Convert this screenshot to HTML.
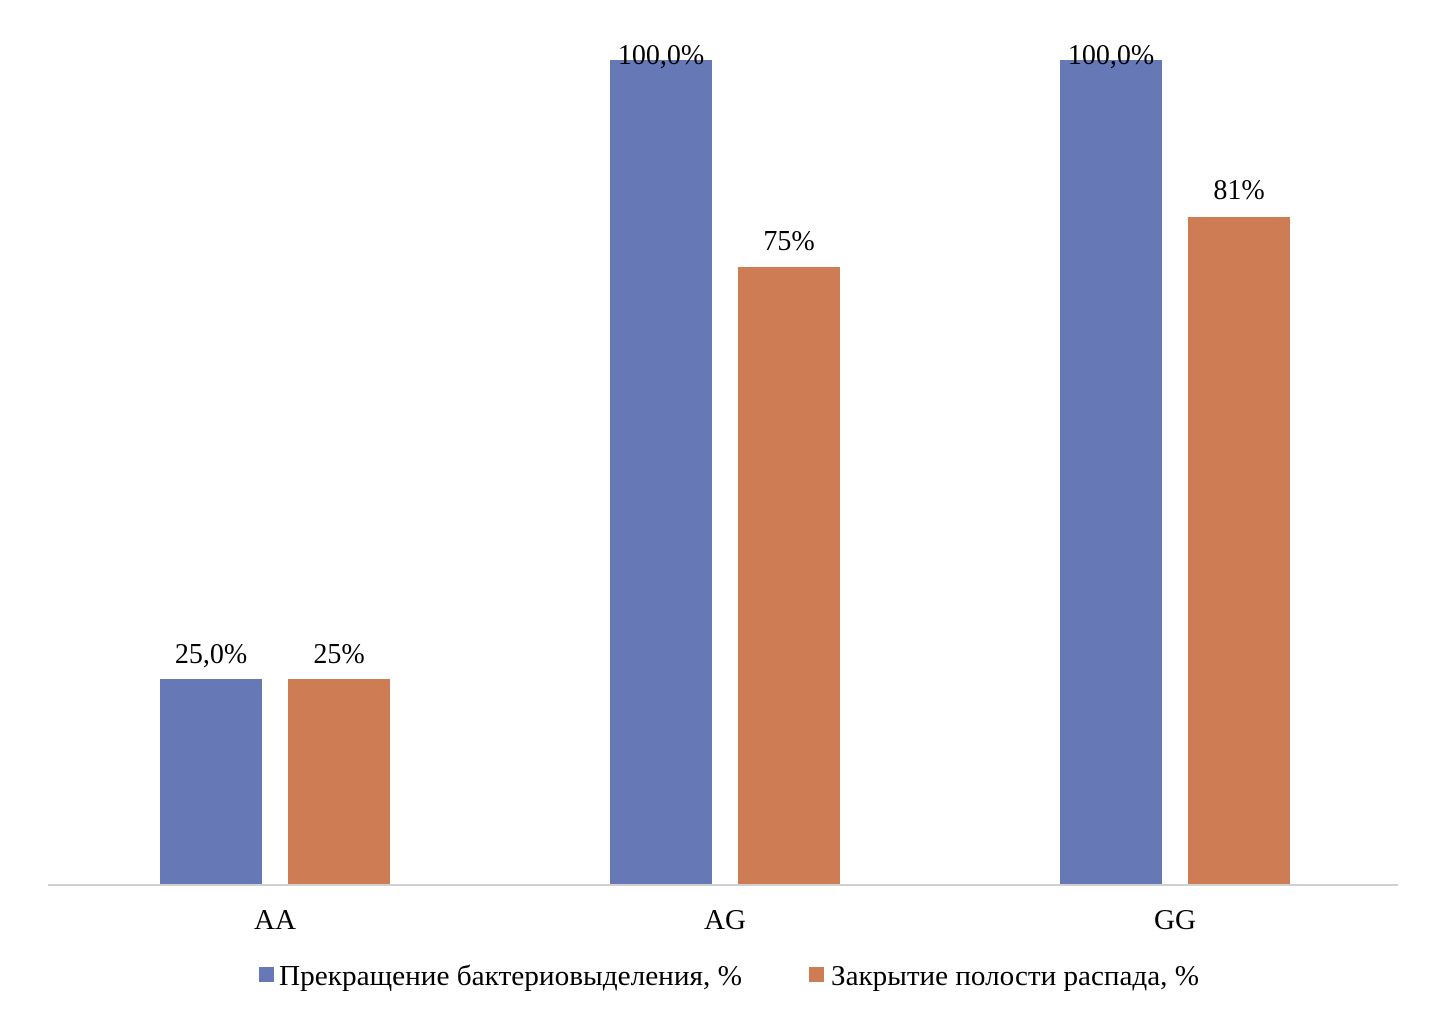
<!DOCTYPE html>
<html><head><meta charset="utf-8"><style>html,body{margin:0;padding:0;background:#fff;}svg{display:block}</style></head>
<body>
<svg width="1429" height="1026" xmlns="http://www.w3.org/2000/svg" font-family="'Liberation Serif', 'DejaVu Serif', serif" font-size="28" fill="#000">
<rect x="160" y="679" width="102" height="205" fill="#6679b6"/>
<rect x="288" y="679" width="102" height="205" fill="#cd7c54"/>
<rect x="610" y="60" width="102" height="824" fill="#6679b6"/>
<rect x="738" y="267" width="102" height="617" fill="#cd7c54"/>
<rect x="1060" y="60" width="102" height="824" fill="#6679b6"/>
<rect x="1188" y="217" width="102" height="667" fill="#cd7c54"/>
<line x1="48" y1="885" x2="1398" y2="885" stroke="#d0d0d0" stroke-width="2"/>
<g text-anchor="middle">
<text x="211" y="663">25,0%</text>
<text x="339" y="663">25%</text>
<text x="661" y="64">100,0%</text>
<text x="789" y="250">75%</text>
<text x="1111" y="64">100,0%</text>
<text x="1239" y="199">81%</text>
<text x="275" y="929" font-size="29">AA</text>
<text x="725" y="929" font-size="29">AG</text>
<text x="1175" y="929" font-size="29">GG</text>
</g>
<rect x="259" y="967" width="15" height="15" fill="#6679b6"/>
<text x="279" y="985" font-size="28" textLength="463" lengthAdjust="spacingAndGlyphs">Прекращение бактериовыделения, %</text>
<rect x="809" y="967" width="15" height="15" fill="#cd7c54"/>
<text x="831" y="985" font-size="28" textLength="368" lengthAdjust="spacingAndGlyphs">Закрытие полости распада, %</text>
</svg>
</body></html>
